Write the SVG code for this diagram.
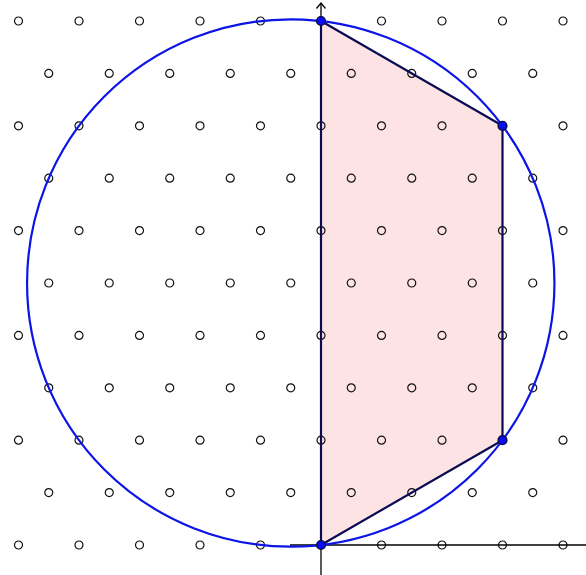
<svg xmlns="http://www.w3.org/2000/svg" xmlns:xlink="http://www.w3.org/1999/xlink" width="586" height="575" viewBox="0 0 586 575">
<style>
.lp{fill:none;stroke:#111;stroke-width:1.2}
.axis{stroke:#000;stroke-width:1.3;fill:none}
.fill{fill:#fde3e3;stroke:none}
.edge{fill:none;stroke:#0a0a55;stroke-width:2.2;stroke-linejoin:round}
.circ{fill:none;stroke:#0d14e6;stroke-width:2.2}
.vtx{fill:#0a0aff;stroke:#0a0a40;stroke-width:1.4}
</style>
<defs>
<circle id="p" r="4" class="lp"/>
</defs>
<rect width="586" height="575" fill="#fff"/>
<g id="polygon-fill">
<polygon class="fill" points="321,545 502.5,440.2 502.5,125.8 321,21"/>
</g>
<g id="lattice">
<use href="#p" x="18.5" y="21"/><use href="#p" x="79" y="21"/><use href="#p" x="139.5" y="21"/><use href="#p" x="200" y="21"/><use href="#p" x="260.5" y="21"/><use href="#p" x="381.5" y="21"/><use href="#p" x="442" y="21"/><use href="#p" x="502.5" y="21"/><use href="#p" x="563" y="21"/>
<use href="#p" x="48.75" y="73.4"/><use href="#p" x="109.25" y="73.4"/><use href="#p" x="169.75" y="73.4"/><use href="#p" x="230.25" y="73.4"/><use href="#p" x="290.75" y="73.4"/><use href="#p" x="351.25" y="73.4"/><use href="#p" x="411.75" y="73.4"/><use href="#p" x="472.25" y="73.4"/><use href="#p" x="532.75" y="73.4"/>
<use href="#p" x="18.5" y="125.8"/><use href="#p" x="79" y="125.8"/><use href="#p" x="139.5" y="125.8"/><use href="#p" x="200" y="125.8"/><use href="#p" x="260.5" y="125.8"/><use href="#p" x="321" y="125.8"/><use href="#p" x="381.5" y="125.8"/><use href="#p" x="442" y="125.8"/><use href="#p" x="563" y="125.8"/>
<use href="#p" x="48.75" y="178.2"/><use href="#p" x="109.25" y="178.2"/><use href="#p" x="169.75" y="178.2"/><use href="#p" x="230.25" y="178.2"/><use href="#p" x="290.75" y="178.2"/><use href="#p" x="351.25" y="178.2"/><use href="#p" x="411.75" y="178.2"/><use href="#p" x="472.25" y="178.2"/><use href="#p" x="532.75" y="178.2"/>
<use href="#p" x="18.5" y="230.6"/><use href="#p" x="79" y="230.6"/><use href="#p" x="139.5" y="230.6"/><use href="#p" x="200" y="230.6"/><use href="#p" x="260.5" y="230.6"/><use href="#p" x="321" y="230.6"/><use href="#p" x="381.5" y="230.6"/><use href="#p" x="442" y="230.6"/><use href="#p" x="502.5" y="230.6"/><use href="#p" x="563" y="230.6"/>
<use href="#p" x="48.75" y="283"/><use href="#p" x="109.25" y="283"/><use href="#p" x="169.75" y="283"/><use href="#p" x="230.25" y="283"/><use href="#p" x="290.75" y="283"/><use href="#p" x="351.25" y="283"/><use href="#p" x="411.75" y="283"/><use href="#p" x="472.25" y="283"/><use href="#p" x="532.75" y="283"/>
<use href="#p" x="18.5" y="335.4"/><use href="#p" x="79" y="335.4"/><use href="#p" x="139.5" y="335.4"/><use href="#p" x="200" y="335.4"/><use href="#p" x="260.5" y="335.4"/><use href="#p" x="321" y="335.4"/><use href="#p" x="381.5" y="335.4"/><use href="#p" x="442" y="335.4"/><use href="#p" x="502.5" y="335.4"/><use href="#p" x="563" y="335.4"/>
<use href="#p" x="48.75" y="387.8"/><use href="#p" x="109.25" y="387.8"/><use href="#p" x="169.75" y="387.8"/><use href="#p" x="230.25" y="387.8"/><use href="#p" x="290.75" y="387.8"/><use href="#p" x="351.25" y="387.8"/><use href="#p" x="411.75" y="387.8"/><use href="#p" x="472.25" y="387.8"/><use href="#p" x="532.75" y="387.8"/>
<use href="#p" x="18.5" y="440.2"/><use href="#p" x="79" y="440.2"/><use href="#p" x="139.5" y="440.2"/><use href="#p" x="200" y="440.2"/><use href="#p" x="260.5" y="440.2"/><use href="#p" x="321" y="440.2"/><use href="#p" x="381.5" y="440.2"/><use href="#p" x="442" y="440.2"/><use href="#p" x="563" y="440.2"/>
<use href="#p" x="48.75" y="492.6"/><use href="#p" x="109.25" y="492.6"/><use href="#p" x="169.75" y="492.6"/><use href="#p" x="230.25" y="492.6"/><use href="#p" x="290.75" y="492.6"/><use href="#p" x="351.25" y="492.6"/><use href="#p" x="411.75" y="492.6"/><use href="#p" x="472.25" y="492.6"/><use href="#p" x="532.75" y="492.6"/>
<use href="#p" x="18.5" y="545"/><use href="#p" x="79" y="545"/><use href="#p" x="139.5" y="545"/><use href="#p" x="200" y="545"/><use href="#p" x="260.5" y="545"/><use href="#p" x="381.5" y="545"/><use href="#p" x="442" y="545"/><use href="#p" x="502.5" y="545"/><use href="#p" x="563" y="545"/>
</g>
<g id="axes">
<line class="axis" x1="290" y1="545" x2="586" y2="545"/>
<line class="axis" x1="321" y1="575" x2="321" y2="3" stroke="#666" stroke-width="1.2"/>
<polyline class="axis" points="316.5,8.5 321,3 325.5,8.5"/>
</g>
<g id="polygon-edges">
<polygon class="edge" points="321,545 502.5,440.2 502.5,125.8 321,21"/>
</g>
<g id="circle">
<circle class="circ" cx="290.75" cy="283" r="263.7"/>
</g>
<g id="vertices">
<circle class="vtx" cx="321" cy="545" r="4.4"/>
<circle class="vtx" cx="502.5" cy="440.2" r="4.4"/>
<circle class="vtx" cx="502.5" cy="125.8" r="4.4"/>
<circle class="vtx" cx="321" cy="21" r="4.4"/>
</g>
</svg>
